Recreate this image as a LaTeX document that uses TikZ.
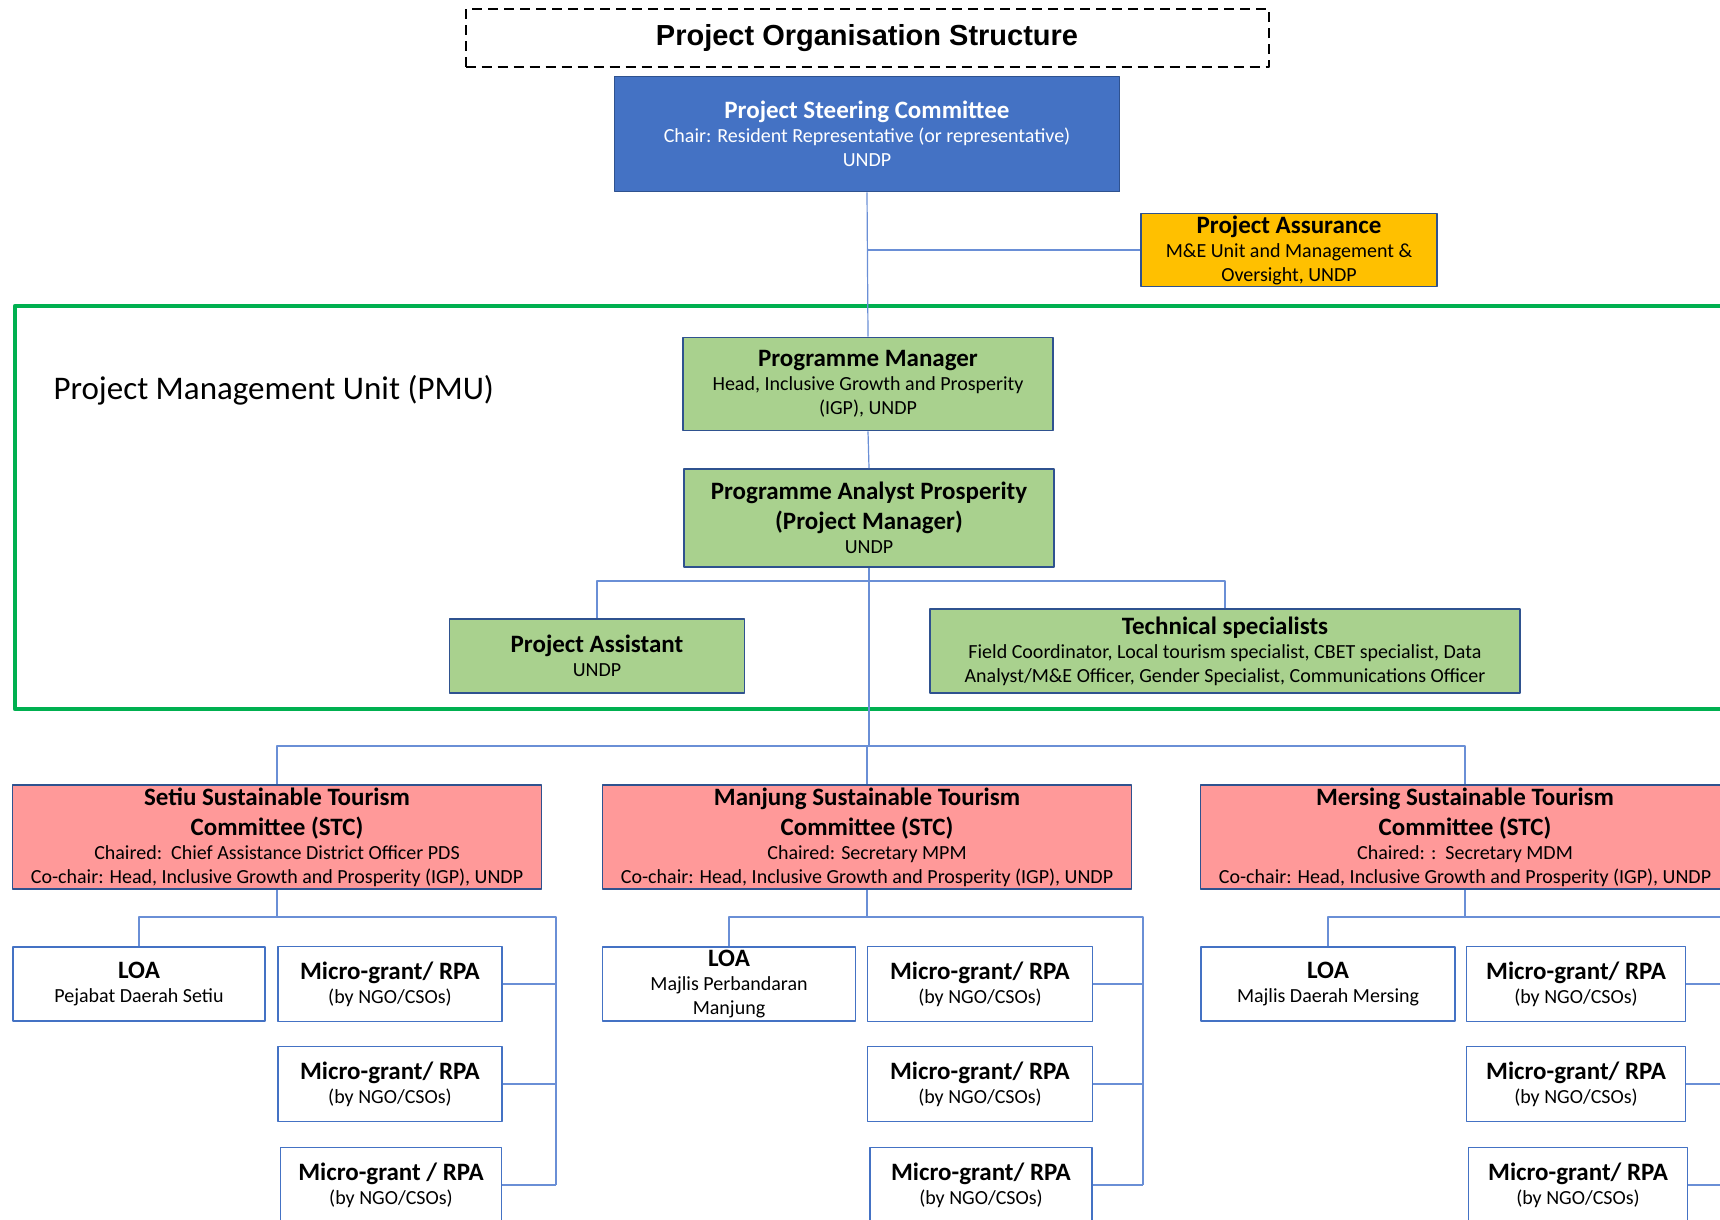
\documentclass[tikz,border=0pt]{standalone}
\usepackage{fontspec}
\setmainfont{Carlito}
\newfontfamily\titlefont{Liberation Sans}
\definecolor{pscblue}{HTML}{4472C4}
\definecolor{edgeblue}{HTML}{2F528F}
\definecolor{linkblue}{HTML}{6A8FD6}
\definecolor{assurgold}{HTML}{FFC000}
\definecolor{leafgreen}{HTML}{A9D18E}
\definecolor{stcrose}{HTML}{FF9999}
\definecolor{pmugreen}{HTML}{00B050}
\begin{document}
\begin{tikzpicture}[x=1pt,y=-1pt,line join=round,
	box/.style={draw=edgeblue,line width=1.8pt,align=center,inner sep=0pt,text=black,
		font=\fontsize{20}{24}\selectfont},
	leaf/.style={box,fill=leafgreen},
	stc/.style={box,fill=stcrose,minimum width=529pt,minimum height=104pt},
	plain/.style={box,draw=pscblue,fill=white},
	grant/.style={plain,minimum height=75pt},
	link/.style={draw=linkblue,line width=1.2pt}]
	\def\hd#1{{\fontsize{25}{30}\selectfont\bfseries #1}}
	\clip (0,0) rectangle (1720,1219);
	% title and steering level
	\node[draw,dash pattern=on 10pt off 6pt,line width=2pt,minimum width=803pt,minimum height=58pt,
		font=\titlefont\bfseries\fontsize{29}{34}\selectfont] (title) at (867,38) {Project Organisation Structure};
	\node[box,fill=pscblue,text=white,minimum width=505pt,minimum height=115pt] (psc) at (867,134)
		{\hd{Project Steering Committee}\\Chair: Resident Representative (or representative)\\UNDP};
	\node[box,fill=assurgold,minimum width=296pt,minimum height=73pt] (assur) at (1289,250)
		{\hd{Project Assurance}\\M\&E Unit and Management \&\\Oversight, UNDP};
	% PMU
	\draw[pmugreen,line width=4.5pt] (15,306) rectangle (1745,709);
	\node[anchor=west,font=\fontsize{33}{40}\selectfont] (pmulabel) at (50,390) {Project Management Unit (PMU)};
	\node[leaf,minimum width=370pt,minimum height=93pt] (pm) at (868,384)
		{\hd{Programme Manager}\\Head, Inclusive Growth and Prosperity\\(IGP), UNDP};
	\node[leaf,minimum width=370pt,minimum height=98pt] (pap) at (869,518)
		{\hd{Programme Analyst Prosperity}\\[6pt]\hd{(Project Manager)}\\UNDP};
	\node[leaf,minimum width=295pt,minimum height=74pt] (asst) at (597,656)
		{\hd{Project Assistant}\\UNDP};
	\node[leaf,minimum width=590pt,minimum height=84pt] (tech) at (1225,651)
		{\hd{Technical specialists}\\Field Coordinator, Local tourism specialist, CBET specialist, Data\\Analyst/M\&E Officer, Gender Specialist, Communications Officer};
	% committees
	\node[stc] (setiu) at (277,837)
		{\hd{Setiu Sustainable Tourism}\\[6pt]\hd{Committee (STC)}\\Chaired:\ \ Chief Assistance District Officer PDS\\Co-chair: Head, Inclusive Growth and Prosperity (IGP), UNDP};
	\node[stc] (manjung) at (867,837)
		{\hd{Manjung Sustainable Tourism}\\[6pt]\hd{Committee (STC)}\\Chaired: Secretary MPM\\Co-chair: Head, Inclusive Growth and Prosperity (IGP), UNDP};
	\node[stc] (mersing) at (1465,837)
		{\hd{Mersing Sustainable Tourism}\\[6pt]\hd{Committee (STC)}\\Chaired: :\ \ Secretary MDM\\Co-chair: Head, Inclusive Growth and Prosperity (IGP), UNDP};
	% LOA and micro-grants
	\node[plain,minimum width=252pt,minimum height=74pt] (loa1) at (139,984) {\hd{LOA}\\Pejabat Daerah Setiu};
	\node[plain,minimum width=253pt,minimum height=74pt] (loa2) at (729,984) {\hd{LOA}\\Majlis Perbandaran\\Manjung};
	\node[plain,minimum width=254pt,minimum height=74pt] (loa3) at (1328,984) {\hd{LOA}\\Majlis Daerah Mersing};
	\node[grant,minimum width=224pt] (mg11) at (390,984) {\hd{Micro-grant/ RPA}\\(by NGO/CSOs)};
	\node[grant,minimum width=224pt] (mg12) at (390,1084) {\hd{Micro-grant/ RPA}\\(by NGO/CSOs)};
	\node[grant,minimum width=221pt] (mg13) at (391,1185) {\hd{Micro-grant / RPA}\\(by NGO/CSOs)};
	\node[grant,minimum width=225pt] (mg21) at (980,984) {\hd{Micro-grant/ RPA}\\(by NGO/CSOs)};
	\node[grant,minimum width=225pt] (mg22) at (980,1084) {\hd{Micro-grant/ RPA}\\(by NGO/CSOs)};
	\node[grant,minimum width=222pt] (mg23) at (981,1185) {\hd{Micro-grant/ RPA}\\(by NGO/CSOs)};
	\node[grant,minimum width=219pt] (mg31) at (1576,984) {\hd{Micro-grant/ RPA}\\(by NGO/CSOs)};
	\node[grant,minimum width=219pt] (mg32) at (1576,1084) {\hd{Micro-grant/ RPA}\\(by NGO/CSOs)};
	\node[grant,minimum width=219pt] (mg33) at (1578,1185) {\hd{Micro-grant/ RPA}\\(by NGO/CSOs)};
	% connectors
	\coordinate (stcbus) at (pap.south |- 0,746);
	\coordinate (rail1) at (556,917);
	\coordinate (rail2) at (1143,917);
	\coordinate (rail3) at (1733,917);
	\draw[link] (psc.south) -- (pm.north);
	\draw[link] (psc.south |- assur.west) -- (assur.west);
	\draw[link] (pm.south) -- (pap.north);
	\draw[link] (asst.north) |- (tech.north |- 0,581) -- (tech.north);
	\draw[link] (pap.south) -- (stcbus);
	\draw[link] (setiu.north) |- (stcbus) -| (mersing.north);
	\draw[link] (manjung.north) -- (manjung.north |- stcbus);
	\draw[link] (setiu.south) -- (setiu.south |- rail1);
	\draw[link] (loa1.north) |- (rail1) -- (rail1 |- mg13.east);
	\draw[link] (mg11.east) -- (mg11.east -| rail1);
	\draw[link] (mg12.east) -- (mg12.east -| rail1);
	\draw[link] (mg13.east) -- (mg13.east -| rail1);
	\draw[link] (manjung.south) -- (manjung.south |- rail2);
	\draw[link] (loa2.north) |- (rail2) -- (rail2 |- mg23.east);
	\draw[link] (mg21.east) -- (mg21.east -| rail2);
	\draw[link] (mg22.east) -- (mg22.east -| rail2);
	\draw[link] (mg23.east) -- (mg23.east -| rail2);
	\draw[link] (mersing.south) -- (mersing.south |- rail3);
	\draw[link] (loa3.north) |- (rail3) -- (rail3 |- mg33.east);
	\draw[link] (mg31.east) -- (mg31.east -| rail3);
	\draw[link] (mg32.east) -- (mg32.east -| rail3);
	\draw[link] (mg33.east) -- (mg33.east -| rail3);
\end{tikzpicture}
\end{document}
